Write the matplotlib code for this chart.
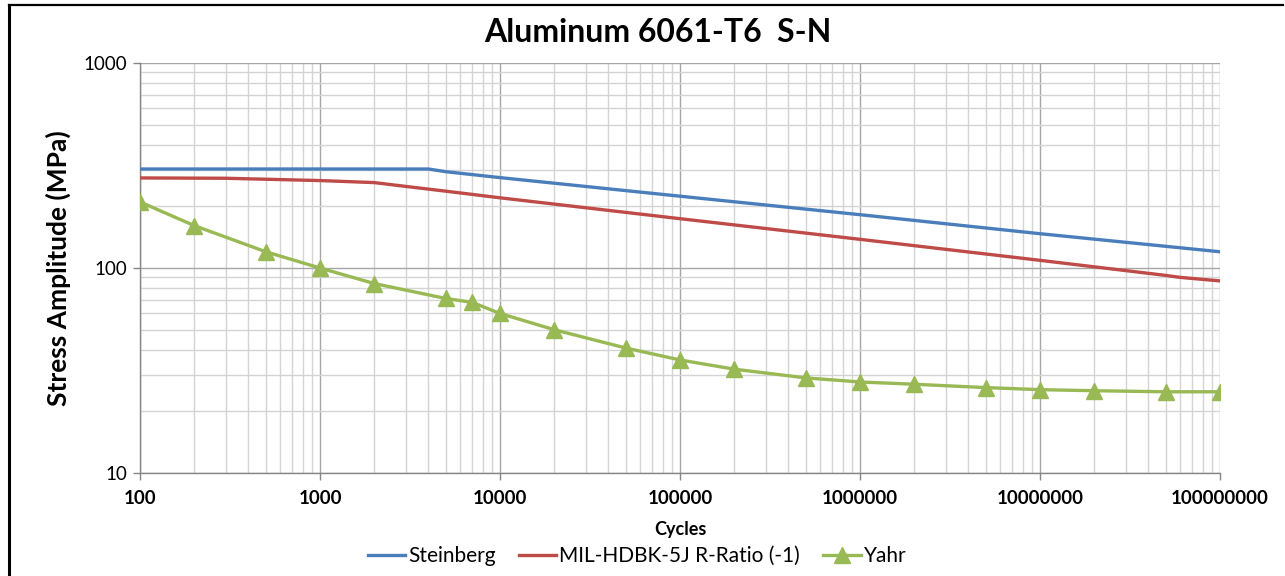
import numpy as np
import matplotlib
matplotlib.use("Agg")
import matplotlib.pyplot as plt
from matplotlib.ticker import FixedLocator, FuncFormatter, LogLocator, NullFormatter
from matplotlib.lines import Line2D

plt.rcParams['font.family'] = ['Lato', 'DejaVu Sans']

# S-N curves (cycles vs stress amplitude in MPa)
steinberg_n = [100, 1000, 4000, 5000, 1e4, 1e5, 1e6, 1e7, 1e8]
steinberg_s = [304, 304, 304, 295, 276, 224, 182, 147, 120]

mil_n = [100, 300, 1000, 2000, 3000, 5000, 1e4, 1e5, 1e6, 1e7, 5e7, 6e7, 1e8]
mil_s = [275, 274, 267, 261, 250, 237, 220, 174, 138, 109, 92, 90, 86.5]

yahr_n = [100, 200, 500, 1000, 2000, 5000, 7000, 1e4, 2e4, 5e4, 1e5, 2e5,
          5e5, 1e6, 2e6, 5e6, 1e7, 2e7, 5e7, 1e8]
yahr_s = [210, 161, 120, 100, 84, 71, 68, 60, 50, 40.7, 35.6, 32.1,
          29.1, 27.8, 27.1, 26.1, 25.5, 25.2, 24.9, 24.9]

x_ticks = [1e2, 1e3, 1e4, 1e5, 1e6, 1e7, 1e8]
y_ticks = [10, 100, 1000]

fig = plt.figure(figsize=(12.85, 5.76), dpi=100)
ax = fig.add_axes([140 / 1285, 1 - 473 / 576, 1080 / 1285, 410 / 576])

ax.plot(steinberg_n, steinberg_s, color='#4a7ebb', lw=2.4, label='Steinberg', zorder=3)
ax.plot(mil_n, mil_s, color='#be4b48', lw=2.4, label='MIL-HDBK-5J R-Ratio (-1)', zorder=3)
ax.plot(yahr_n, yahr_s, color='#98b954', lw=2.4, marker='^', markersize=11,
        label='Yahr', zorder=4)

ax.set_xscale('log')
ax.set_yscale('log')
ax.set_xlim(100, 1e8)
ax.set_ylim(10, 1000)

ax.xaxis.set_major_locator(FixedLocator(x_ticks))
ax.yaxis.set_major_locator(FixedLocator(y_ticks))
ax.xaxis.set_minor_locator(LogLocator(base=10, subs=np.arange(2, 10)))
ax.yaxis.set_minor_locator(LogLocator(base=10, subs=np.arange(2, 10)))
ax.xaxis.set_minor_formatter(NullFormatter())
ax.yaxis.set_minor_formatter(NullFormatter())
fmt = FuncFormatter(lambda v, p: '%d' % round(v))
ax.xaxis.set_major_formatter(fmt)
ax.yaxis.set_major_formatter(fmt)

ax.grid(which='major', color='#a6a6a6', lw=1.0)
ax.grid(which='minor', color='#d4d4d4', lw=1.0)
ax.set_axisbelow(True)

for side in ['top', 'right']:
    ax.spines[side].set_visible(False)
for side in ['left', 'bottom']:
    ax.spines[side].set_color('#868686')
    ax.spines[side].set_linewidth(1.0)

ax.tick_params(which='major', direction='out', length=5, color='#868686', width=1.0)
ax.tick_params(which='minor', length=0)
ax.tick_params(axis='y', labelsize=13.5, pad=4)
ax.tick_params(axis='x', labelsize=13.5, pad=7)
for lbl in ax.get_xticklabels():
    lbl.set_fontweight('bold')

ax.set_xlabel('Cycles', fontsize=13, fontweight='bold', labelpad=10)
ax.set_ylabel('Stress Amplitude (MPa)', fontsize=19, fontweight='bold', labelpad=9)
fig.text(0.512, 1 - 33 / 576, 'Aluminum 6061-T6  S-N', ha='center', va='center',
         fontsize=23, fontweight='bold')

fig.legend(loc='center', bbox_to_anchor=(637 / 1285, 1 - 556 / 576), ncol=3,
           frameon=False, fontsize=15, handlelength=1.8, handletextpad=0.15,
           columnspacing=1.1, borderaxespad=0)

# frame edges on the left and top
fig.add_artist(Line2D([9 / 1285, 9 / 1285], [0, 1 - 5 / 576], color='black', lw=2.2))
fig.add_artist(Line2D([9 / 1285, 1283 / 1285], [1 - 5 / 576, 1 - 5 / 576], color='black', lw=1.6))

fig.savefig('out.png', dpi=100)
